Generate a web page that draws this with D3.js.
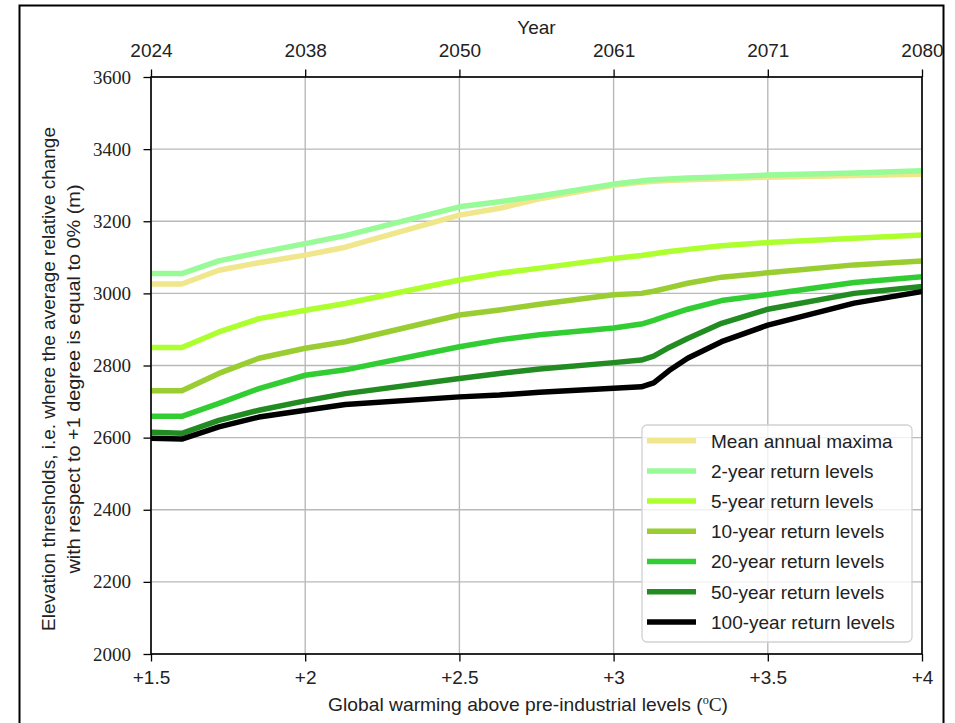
<!DOCTYPE html>
<html>
<head>
<meta charset="utf-8">
<script src="https://cdn.jsdelivr.net/npm/d3@7"></script>
<style>
  body { margin: 0; background: #fff; }
  svg { display: block; }
</style>
</head>
<body>
<div id="chart"></div>
<script>
// data
const warming = [1.5, 1.6, 1.72, 1.85, 2.0, 2.13, 2.5, 2.63, 2.76, 3.0, 3.09, 3.13, 3.18, 3.24, 3.35, 3.5, 3.78, 4.0];
const meanMaxima = [3026, 3026, 3064, 3085, 3106, 3128, 3217, 3236, 3262, 3300, 3308, 3311, 3313, 3315, 3318, 3322, 3327, 3330];
const rl2 = [3055, 3055, 3090, 3113, 3138, 3160, 3240, 3254, 3270, 3303, 3312, 3315, 3317, 3320, 3323, 3328, 3334, 3340];
const rl5 = [2850, 2850, 2893, 2930, 2953, 2972, 3037, 3056, 3070, 3097, 3105, 3110, 3116, 3122, 3132, 3141, 3153, 3162];
const rl10 = [2730, 2730, 2778, 2820, 2848, 2866, 2940, 2954, 2970, 2996, 3000, 3006, 3016, 3028, 3045, 3057, 3079, 3090];
const rl20 = [2659, 2659, 2695, 2736, 2773, 2788, 2852, 2871, 2885, 2904, 2915, 2925, 2940, 2956, 2980, 2997, 3030, 3046];
const rl50 = [2615, 2612, 2648, 2676, 2702, 2722, 2764, 2778, 2790, 2808, 2815, 2826, 2850, 2875, 2917, 2956, 3000, 3019];
const rl100 = [2598, 2596, 2630, 2657, 2676, 2692, 2713, 2718, 2726, 2737, 2741, 2752, 2786, 2820, 2866, 2912, 2973, 3005];

const seriesNames = ["Mean annual maxima", "2-year return levels", "5-year return levels", "10-year return levels",
  "20-year return levels", "50-year return levels", "100-year return levels"];
const seriesValues = [meanMaxima, rl2, rl5, rl10, rl20, rl50, rl100];
const seriesColors = ["#f0e68c", "#98fb98", "#adff2f", "#9acd32", "#32cd32", "#228b22", "#000000"];

const xTicks = [1.5, 2, 2.5, 3, 3.5, 4];
const xTickLabels = ["+1.5", "+2", "+2.5", "+3", "+3.5", "+4"];
const yearLabels = ["2024", "2038", "2050", "2061", "2071", "2080"];
const yTicks = [2000, 2200, 2400, 2600, 2800, 3000, 3200, 3400, 3600];

////////////////////////////////////////////////////////////////////
////////////////////////////  Init  ///////////////////////////////
const width = 955;
const height = 723;
const margin = { top: 77, right: 33, bottom: 69, left: 151 };

const sans = "'Liberation Sans', Arial, sans-serif";
const serif = "'Liberation Serif', 'Times New Roman', serif";

const svg = d3.select("#chart").append("svg")
  .attr("width", width)
  .attr("height", height);

// outer figure frame
svg.append("rect")
  .attr("x", 19.5).attr("y", 5.5)
  .attr("width", 924).attr("height", 800)
  .attr("fill", "none")
  .attr("stroke", "#000")
  .attr("stroke-width", 2);

const xScale = d3.scaleLinear().domain([1.5, 4]).range([margin.left, width - margin.right]);
const yScale = d3.scaleLinear().domain([2000, 3600]).range([height - margin.bottom, margin.top]);

// clip
svg.append("clipPath").attr("id", "plot-clip")
  .append("rect")
  .attr("x", margin.left).attr("y", margin.top)
  .attr("width", xScale(4) - margin.left)
  .attr("height", yScale(2000) - margin.top);

// grid
const grid = svg.append("g").attr("class", "grid");
grid.selectAll(".gx").data(xTicks).join("line")
  .attr("x1", (d) => xScale(d)).attr("x2", (d) => xScale(d))
  .attr("y1", yScale(3600)).attr("y2", yScale(2000))
  .attr("stroke", "#b9b9b9").attr("stroke-width", 1.4);
grid.selectAll(".gy").data(yTicks).join("line")
  .attr("x1", xScale(1.5)).attr("x2", xScale(4))
  .attr("y1", (d) => yScale(d)).attr("y2", (d) => yScale(d))
  .attr("stroke", "#b9b9b9").attr("stroke-width", 1.4);

// lines
const line = d3.line()
  .x((d, i) => xScale(warming[i]))
  .y((d) => yScale(d));

svg.append("g")
  .attr("clip-path", "url(#plot-clip)")
  .selectAll("path")
  .data(seriesValues)
  .join("path")
  .attr("d", line)
  .attr("fill", "none")
  .attr("stroke", (d, i) => seriesColors[i])
  .attr("stroke-width", 5.5)
  .attr("stroke-linejoin", "round")
  .attr("stroke-linecap", "square");

// axes
const xAxis = d3.axisBottom(xScale)
  .tickValues(xTicks)
  .tickFormat((d, i) => xTickLabels[i])
  .tickSize(7.5)
  .tickPadding(9);

const topAxis = d3.axisTop(xScale)
  .tickValues(xTicks)
  .tickFormat((d, i) => yearLabels[i])
  .tickSize(7.5)
  .tickPadding(12.5);

const yAxis = d3.axisLeft(yScale)
  .tickValues(yTicks)
  .tickFormat(d3.format("d"))
  .tickSize(7.5)
  .tickPadding(12.5);

const gx = svg.append("g")
  .attr("transform", `translate(0, ${yScale(2000)})`)
  .call(xAxis);
const gt = svg.append("g")
  .attr("transform", `translate(0, ${yScale(3600)})`)
  .call(topAxis);
const gy = svg.append("g")
  .attr("transform", `translate(${xScale(1.5)}, 0)`)
  .call(yAxis);

[gx, gt, gy].forEach((g) => {
  g.select(".domain").remove();
  g.selectAll(".tick line").attr("stroke", "#000").attr("stroke-width", 1.3);
  g.selectAll(".tick text").attr("fill", "#222").attr("font-size", 19).attr("font-family", sans);
});
gy.selectAll(".tick text").attr("font-family", serif);

// spines
svg.append("rect")
  .attr("x", xScale(1.5)).attr("y", yScale(3600))
  .attr("width", xScale(4) - xScale(1.5))
  .attr("height", yScale(2000) - yScale(3600))
  .attr("fill", "none")
  .attr("stroke", "#000")
  .attr("stroke-width", 1.6);

// axis titles
const midX = (xScale(1.5) + xScale(4)) / 2;

svg.append("text")
  .attr("x", midX).attr("y", 34)
  .attr("text-anchor", "middle")
  .attr("font-family", sans).attr("font-size", 19).attr("fill", "#222")
  .text("Year");

const xTitle = svg.append("text")
  .attr("x", 528).attr("y", 711)
  .attr("text-anchor", "middle")
  .attr("font-family", sans).attr("font-size", 19).attr("fill", "#222")
  .attr("textLength", 400).attr("lengthAdjust", "spacingAndGlyphs");
xTitle.append("tspan").text("Global warming above pre-industrial levels (");
xTitle.append("tspan").attr("font-family", serif).attr("font-size", 12).attr("dy", -7).text("o");
xTitle.append("tspan").attr("font-family", serif).attr("dy", 7).text("C");
xTitle.append("tspan").text(")");

const yTitle = svg.append("g")
  .attr("transform", "translate(0, 379) rotate(-90)");
yTitle.append("text")
  .attr("x", 0).attr("y", 55)
  .attr("text-anchor", "middle")
  .attr("font-family", sans).attr("font-size", 19).attr("fill", "#222")
  .attr("textLength", 504).attr("lengthAdjust", "spacingAndGlyphs")
  .text("Elevation thresholds, i.e. where the average relative change");
yTitle.append("text")
  .attr("x", 0).attr("y", 80)
  .attr("text-anchor", "middle")
  .attr("font-family", sans).attr("font-size", 19).attr("fill", "#222")
  .attr("textLength", 389).attr("lengthAdjust", "spacingAndGlyphs")
  .text("with respect to +1 degree is equal to 0% (m)");

// legend
const legend = svg.append("g").attr("class", "legend");
legend.append("rect")
  .attr("x", 642).attr("y", 425)
  .attr("width", 270).attr("height", 217)
  .attr("rx", 5)
  .attr("fill", "#fff").attr("fill-opacity", 0.8)
  .attr("stroke", "#d2d2d2").attr("stroke-width", 1.3);

const rows = legend.selectAll(".row")
  .data(seriesNames)
  .join("g")
  .attr("transform", (d, i) => `translate(0, ${440.7 + i * 30.2})`);
rows.append("line")
  .attr("x1", 647).attr("x2", 696)
  .attr("stroke", (d, i) => seriesColors[i])
  .attr("stroke-width", 5.5);
rows.append("text")
  .attr("x", 711).attr("y", 6.8)
  .attr("font-family", sans).attr("font-size", 19).attr("fill", "#222")
  .text((d) => d);
</script>
</body>
</html>
